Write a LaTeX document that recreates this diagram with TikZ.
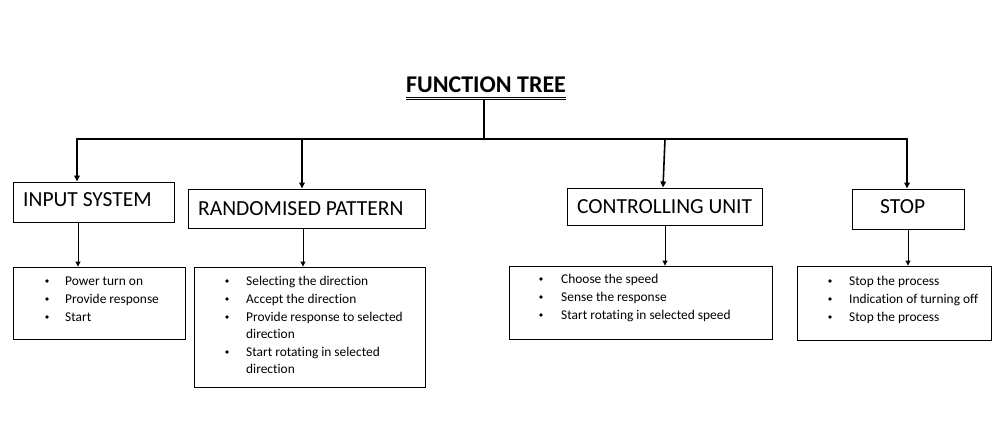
\documentclass[tikz,border=0pt]{standalone}
\usepackage{fontspec}
\setmainfont{Carlito}[Ligatures=NoCommon]
\usetikzlibrary{arrows.meta}
\begin{document}
\begin{tikzpicture}[x=1pt,y=-1pt,
  box/.style={draw,line width=0.9pt,inner sep=0pt},
  head/.style={font=\fontsize{21.5}{24}\selectfont,anchor=base west,inner sep=0pt},
  item/.style={font=\fontsize{13.4}{16}\selectfont,anchor=base west,inner sep=0pt},
  bus/.style={line width=2pt},
  bigarr/.style={line width=1.6pt,-{Triangle[length=6pt,width=5.5pt]}},
  smallarr/.style={line width=0.9pt,-{Triangle[length=5pt,width=5pt]}},
  dot/.style={circle,fill,inner sep=0pt,minimum size=3.6pt}]
\useasboundingbox (0,0) rectangle (995,433);
\fill[white] (0,0) rectangle (995,433);

% title
\node[font=\fontsize{24}{28}\selectfont\bfseries,anchor=base,inner sep=0pt] (title) at (486,93) {FUNCTION TREE};
\draw[line width=0.8pt] ([yshift=-4.5pt]title.base west) -- ([yshift=-4.5pt]title.base east);
\draw[line width=0.8pt] ([yshift=-6.5pt]title.base west) -- ([yshift=-6.5pt]title.base east);
\coordinate (top) at (484,100);
\coordinate (hub) at (484,139);

% heading boxes
\node[box,minimum width=161pt,minimum height=40pt] (h1) at (93.5,202) {};
\node[box,minimum width=237pt,minimum height=39pt] (h2) at (306.5,208.5) {};
\node[box,minimum width=195pt,minimum height=37pt] (h3) at (664.5,206.5) {};
\node[box,minimum width=112pt,minimum height=40pt] (h4) at (908,209) {};
\node[head] (t1) at (23,206) {INPUT SYSTEM};
\node[head] (t2) at (198,215) {RANDOMISED PATTERN};
\node[head] (t3) at (577,213) {CONTROLLING UNIT};
\node[head] (t4) at (880,213) {STOP};

% bus
\coordinate (b1) at (77,139);
\coordinate (b2) at (302,139);
\coordinate (b3) at (665,139);
\coordinate (b4) at (907,139);
\draw[bus] (top) -- (hub);
\draw[bus,line cap=rect] (b1) -- (b4);
\draw[bigarr] (b1) -- (b1 |- h1.north);
\draw[bigarr] (b2) -- (b2 |- h2.north);
\draw[bigarr] (b3) -- (663,187.5);
\draw[bigarr] (b4) -- (b4 |- h4.north);

% lower boxes
\node[box,minimum width=172pt,minimum height=72pt] (l1) at (99,303) {};
\node[box,minimum width=231pt,minimum height=120pt] (l2) at (309.5,327) {};
\node[box,minimum width=263pt,minimum height=73pt] (l3) at (640.5,302.5) {};
\node[box,minimum width=194pt,minimum height=74pt] (l4) at (894,303) {};

\coordinate (c1) at (78,0);
\coordinate (c2) at (303,0);
\coordinate (c3) at (665,0);
\coordinate (c4) at (908,0);
\draw[smallarr] (c1 |- h1.south) -- (c1 |- l1.north);
\draw[smallarr] (c2 |- h2.south) -- (c2 |- l2.north);
\draw[smallarr] (c3 |- h3.south) -- (c3 |- l3.north);
\draw[smallarr] (c4 |- h4.south) -- (c4 |- l4.north);

% items box 1
\foreach \y/\t in {285/Power turn on,303/Provide response,321/Start}{
  \node[dot] at (47,\y-4) {};
  \node[item] at (65,\y) {\t};
}
% items box 2
\foreach \y/\t in {285/Selecting the direction,303/Accept the direction,321/Provide response to selected,356/Start rotating in selected}{
  \node[dot] at (227,\y-4) {};
  \node[item] at (246,\y) {\t};
}
\node[item] at (246,338) {direction};
\node[item] at (246,373) {direction};
% items box 3
\foreach \y/\t in {283/Choose the speed,301/Sense the response,319/Start rotating in selected speed}{
  \node[dot] at (541,\y-4) {};
  \node[item] at (561,\y) {\t};
}
% items box 4
\foreach \y/\t in {285/Stop the process,303/Indication of turning off,321/Stop the process}{
  \node[dot] at (830,\y-4) {};
  \node[item] at (849,\y) {\t};
}
\end{tikzpicture}
\end{document}
